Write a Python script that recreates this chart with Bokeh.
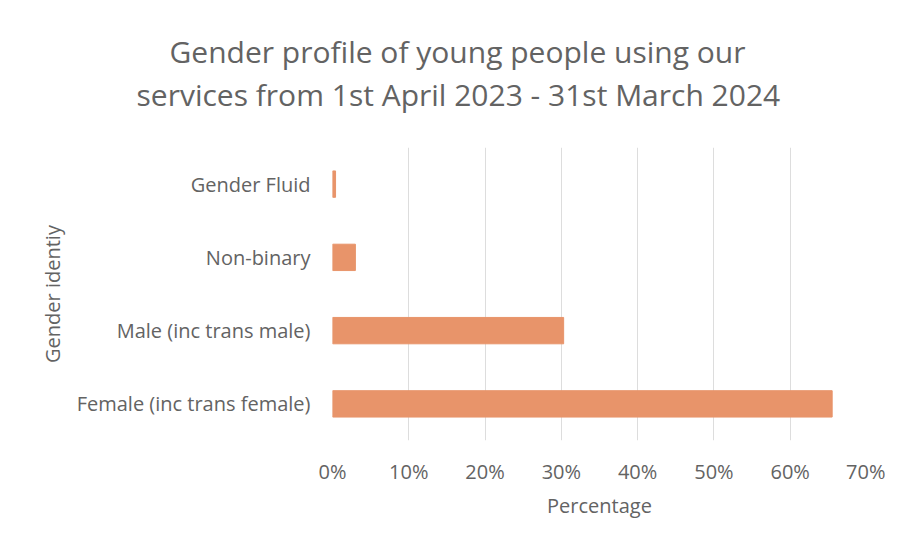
from bokeh.plotting import figure
from bokeh.models import ColumnDataSource, NumeralTickFormatter, FixedTicker, Range1d, FactorRange, Title
from bokeh.embed import file_html
from bokeh.resources import INLINE

categories = ["Female (inc trans female)", "Male (inc trans male)", "Non-binary", "Gender Fluid"]
percentages = [0.655, 0.303, 0.030, 0.004]
x_ticks = [0.0, 0.1, 0.2, 0.3, 0.4, 0.5, 0.6, 0.7]
title_lines = ["Gender profile of young people using our",
               "services from 1st April 2023 - 31st March 2024"]

FONT = "Open Sans"
TEXT = "#636363"

source = ColumnDataSource(dict(cat=categories, val=percentages))

p = figure(width=885, height=531, output_backend="svg", toolbar_location=None,
           y_range=FactorRange(factors=categories, range_padding=0),
           x_range=Range1d(0, 0.70),
           min_border_left=332, min_border_right=19, min_border_top=147, min_border_bottom=91)
p.hbar(y="cat", right="val", left=0, height=0.36, source=source, color="#E8946A")

p.outline_line_color = None
p.background_fill_color = "white"
p.border_fill_color = "white"

p.xgrid.grid_line_color = "#dddddd"
p.ygrid.grid_line_color = None
p.xaxis.ticker = FixedTicker(ticks=x_ticks)
p.xaxis.formatter = NumeralTickFormatter(format="0%")
p.xaxis.axis_line_color = None
p.xaxis.major_tick_line_color = None
p.xaxis.minor_tick_line_color = None
p.xaxis.major_label_standoff = 11
p.xaxis.axis_label = "Percentage"
p.xaxis.axis_label_standoff = 4

p.yaxis.axis_line_color = None
p.yaxis.major_tick_line_color = None
p.yaxis.minor_tick_line_color = None
p.yaxis.major_label_standoff = 16
p.yaxis.axis_label = "Gender identiy"
p.yaxis.axis_label_standoff = 8

for ax in (p.xaxis, p.yaxis):
    ax.major_label_text_font = FONT
    ax.major_label_text_font_size = "20px"
    ax.major_label_text_color = TEXT
    ax.axis_label_text_font = FONT
    ax.axis_label_text_font_size = "20px"
    ax.axis_label_text_font_style = "normal"
    ax.axis_label_text_color = TEXT

spacer = Title(text=".", text_font_size="10px", text_color="white", standoff=23)
p.add_layout(spacer, "above")
for txt, off in zip(reversed(title_lines), [-196, -163]):
    p.add_layout(Title(text=txt, align="left", offset=off, standoff=0,
                       text_font=FONT, text_font_size="30px", text_font_style="normal",
                       text_color=TEXT), "above")

open("out.html", "w").write(file_html(p, INLINE))
